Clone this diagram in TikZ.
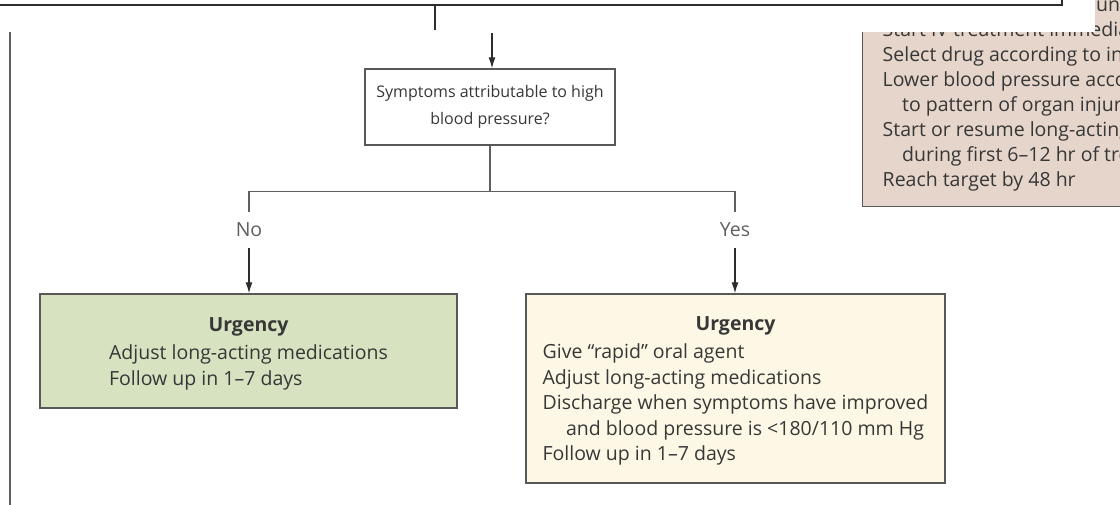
\documentclass[tikz,border=0pt]{standalone}
\usepackage{fontspec}
\setmainfont{Open Sans}
\usepackage{tikz}
\usetikzlibrary{arrows.meta,positioning,calc}
\definecolor{sagegreen}{RGB}{214,226,192}
\definecolor{paleyellow}{RGB}{253,248,229}
\definecolor{dustypink}{RGB}{229,213,203}
\definecolor{framegray}{RGB}{88,88,88}
\definecolor{darkframe}{RGB}{45,45,45}
\definecolor{inkgray}{RGB}{55,55,55}
\definecolor{labelgray}{RGB}{95,95,95}

\begin{document}
\begin{tikzpicture}[x=1pt,y=-1pt,>={Latex[length=11pt,width=7pt]},font=\fontsize{19.5}{25.5}\selectfont,text=inkgray]
\tikzstyle{nodebox}=[draw=framegray,line width=1.4pt,inner sep=0pt,align=center]
\tikzstyle{branch}=[draw=labelgray,line width=1.3pt]
\tikzstyle{arrowline}=[draw=darkframe,line width=1.1pt,->]
\tikzstyle{answer}=[text=labelgray,inner xsep=2pt,inner ysep=11pt]
\useasboundingbox (0,0) rectangle (1120,505);
\clip (0,0) rectangle (1120,505);
% panel on the right, partly cut off
\node[nodebox,fill=dustypink,anchor=south west,inner xsep=20pt,inner ysep=15pt,align=left,font=\fontsize{19.5}{25}\selectfont] (emerg) at (862,207)
  {Admit to intensive care unit\\
   Start IV treatment immediately\\
   Select drug according to indication\\
   Lower blood pressure according\\
   \hspace*{1em}to pattern of organ injury\\
   Start or resume long-acting medications\\
   \hspace*{1em}during first 6--12 hr of treatment\\
   Reach target by 48 hr};
\fill[white] (-5,-5) rectangle (1095,32);
% box above, only its lower edge shows
\node[draw=darkframe,line width=2.4pt,minimum width=1200pt,minimum height=100pt,anchor=south east] (assess) at (1063,6) {};
\coordinate (split) at (435,30);
\draw[draw=darkframe,line width=2pt] (assess.south -| split) -- (split);
\coordinate (railtop) at (10,32);
\coordinate (railbot) at (10,510);
\draw[draw=labelgray,line width=1.6pt] (railtop) -- (railbot);
% question
\node[nodebox,fill=white,minimum width=250pt,minimum height=76pt,font=\fontsize{16}{27}\selectfont] (question) at (490,107) {Symptoms attributable to high\\blood pressure?};
\coordinate (entry) at (492,33);
\draw[arrowline] (entry) -- (entry |- question.north);
% outcomes
\node[nodebox,fill=sagegreen,minimum width=417pt,minimum height=114pt] (mild) at (248.5,351)
  {\rule{0pt}{22pt}\textbf{Urgency}\\[5pt]
   \begin{tabular}{@{}l@{}}Adjust long-acting medications\\Follow up in 1--7 days\end{tabular}};
\node[nodebox,fill=paleyellow,minimum width=419pt,minimum height=189pt] (severe) at (735.5,388.5)
  {\rule{0pt}{22pt}\textbf{Urgency}\\[5pt]
   \begin{tabular}{@{}l@{}}Give ``rapid'' oral agent\\Adjust long-acting medications\\Discharge when symptoms have improved\\
   \hspace*{1.2em}and blood pressure is <180/110 mm Hg\\Follow up in 1--7 days\end{tabular}};
\node[answer] (no) at (249,230) {No};
\node[answer] (yes) at (735,230) {Yes};
\draw[branch] (question.south) -- ++(0,46) coordinate (fork);
\draw[branch] (fork) -| (no.north);
\draw[branch] (fork) -| (yes.north);
\draw[arrowline] (no.south) -- (no |- mild.north);
\draw[arrowline] (yes.south) -- (yes |- severe.north);
\end{tikzpicture}
\end{document}
